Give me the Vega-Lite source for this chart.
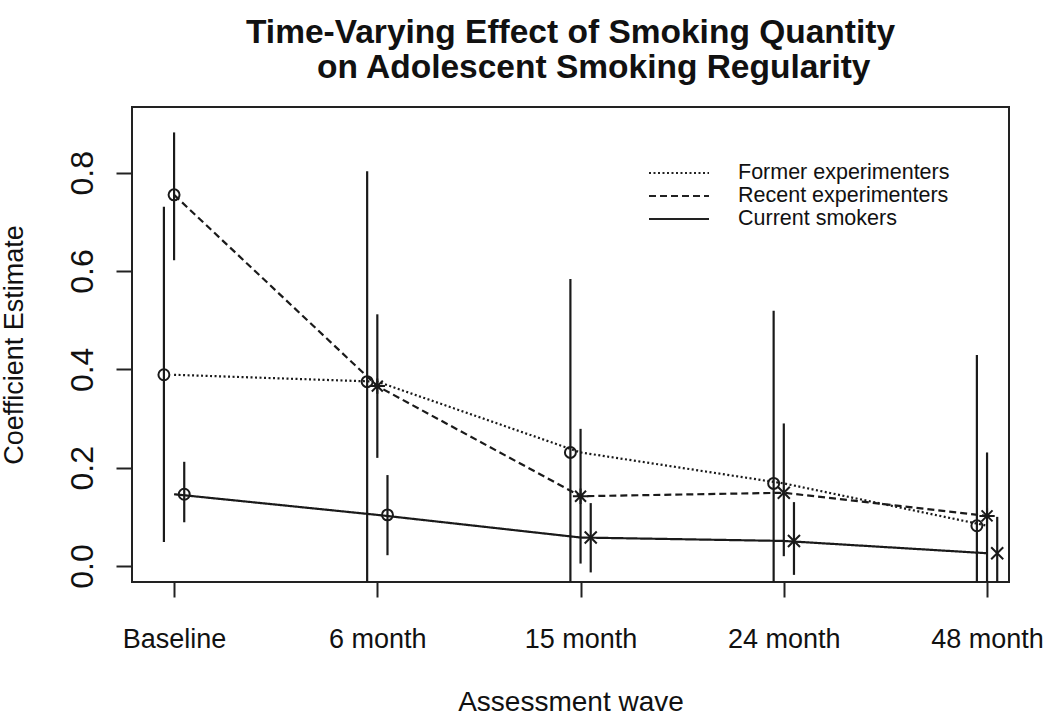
{
  "$schema": "https://vega.github.io/schema/vega-lite/v6.json",
  "width": 877,
  "height": 475,
  "autosize": {"type": "none"},
  "padding": {"left": 132, "top": 107, "right": 41, "bottom": 139},
  "background": "white",
  "title": {
    "text": ["Time-Varying Effect of Smoking Quantity", "\u200b\u00a0\u00a0\u00a0\u00a0\u00a0on Adolescent Smoking Regularity"],
    "anchor": "middle",
    "frame": "group",
    "font": "Liberation Sans",
    "fontSize": 33.5,
    "fontWeight": "bold",
    "color": "#111",
    "lineHeight": 35,
    "offset": 22
  },
  "config": {
    "view": {"stroke": "#222", "strokeWidth": 2},
    "axis": {
      "labelFont": "Liberation Sans",
      "titleFont": "Liberation Sans",
      "labelColor": "#111",
      "titleColor": "#111",
      "tickColor": "#222",
      "tickWidth": 2,
      "domain": false,
      "grid": false,
      "titleFontWeight": "normal"
    },
    "legend": {
      "orient": "none",
      "legendX": 536,
      "legendY": 55,
      "padding": 0,
      "title": null,
      "labelFont": "Liberation Sans",
      "labelFontSize": 21.5,
      "labelColor": "#111",
      "labelLimit": 600,
      "symbolType": "M-3,0H3",
      "symbolSize": 400,
      "symbolStrokeWidth": 2,
      "symbolStrokeColor": "#222",
      "labelOffset": 48,
      "rowPadding": 1
    }
  },
  "data": {
    "values": [
      {"group": "Former experimenters", "wave": "Baseline", "wave_num": 1, "pos": 0.95, "est": 0.389, "lo": 0.049, "hi": 0.731, "marker": "circle"},
      {"group": "Former experimenters", "wave": "6 month", "wave_num": 2, "pos": 1.95, "est": 0.375, "lo": -0.1, "hi": 0.803, "marker": "circle"},
      {"group": "Former experimenters", "wave": "15 month", "wave_num": 3, "pos": 2.95, "est": 0.231, "lo": -0.1, "hi": 0.584, "marker": "circle"},
      {"group": "Former experimenters", "wave": "24 month", "wave_num": 4, "pos": 3.95, "est": 0.168, "lo": -0.1, "hi": 0.519, "marker": "circle"},
      {"group": "Former experimenters", "wave": "48 month", "wave_num": 5, "pos": 4.95, "est": 0.082, "lo": -0.1, "hi": 0.429, "marker": "circle"},
      {"group": "Recent experimenters", "wave": "Baseline", "wave_num": 1, "pos": 1.0, "est": 0.755, "lo": 0.622, "hi": 0.882, "marker": "circle"},
      {"group": "Recent experimenters", "wave": "6 month", "wave_num": 2, "pos": 2.0, "est": 0.366, "lo": 0.22, "hi": 0.512, "marker": "asterisk"},
      {"group": "Recent experimenters", "wave": "15 month", "wave_num": 3, "pos": 3.0, "est": 0.142, "lo": 0.005, "hi": 0.279, "marker": "asterisk"},
      {"group": "Recent experimenters", "wave": "24 month", "wave_num": 4, "pos": 4.0, "est": 0.149, "lo": 0.02, "hi": 0.29, "marker": "x"},
      {"group": "Recent experimenters", "wave": "48 month", "wave_num": 5, "pos": 5.0, "est": 0.102, "lo": -0.1, "hi": 0.231, "marker": "asterisk"},
      {"group": "Current smokers", "wave": "Baseline", "wave_num": 1, "pos": 1.05, "est": 0.146, "lo": 0.089, "hi": 0.212, "marker": "circle"},
      {"group": "Current smokers", "wave": "6 month", "wave_num": 2, "pos": 2.05, "est": 0.104, "lo": 0.022, "hi": 0.185, "marker": "circle"},
      {"group": "Current smokers", "wave": "15 month", "wave_num": 3, "pos": 3.05, "est": 0.058, "lo": -0.013, "hi": 0.128, "marker": "x"},
      {"group": "Current smokers", "wave": "24 month", "wave_num": 4, "pos": 4.05, "est": 0.051, "lo": -0.018, "hi": 0.13, "marker": "x"},
      {"group": "Current smokers", "wave": "48 month", "wave_num": 5, "pos": 5.05, "est": 0.026, "lo": -0.1, "hi": 0.1, "marker": "x"}
    ]
  },
  "layer": [
    {
      "mark": {"type": "rule", "clip": true, "color": "#1a1a1a", "strokeWidth": 2.2},
      "encoding": {
        "x": {"field": "pos", "type": "quantitative", "scale": {"domain": [0.793, 5.108], "nice": false, "zero": false}},
        "y": {"field": "lo", "type": "quantitative", "scale": {"domain": [-0.0325, 0.9337], "nice": false, "zero": false}},
        "y2": {"field": "hi"}
      }
    },
    {
      "mark": {"type": "line", "clip": true, "color": "#1a1a1a", "strokeWidth": 2.2},
      "encoding": {
        "x": {
          "field": "wave_num",
          "type": "quantitative",
          "axis": {
            "values": [1, 2, 3, 4, 5],
            "labelExpr": "['', 'Baseline', '6 month', '15 month', '24 month', '48 month'][datum.value]",
            "title": "Assessment wave",
            "labelFontSize": 27,
            "titleFontSize": 28,
            "tickSize": 15,
            "labelPadding": 29,
            "titlePadding": 36,
            "labelFlush": false,
            "labelOverlap": false
          }
        },
        "y": {
          "field": "est",
          "type": "quantitative",
          "axis": {
            "values": [0, 0.2, 0.4, 0.6, 0.8],
            "format": ".1f",
            "title": "Coefficient Estimate",
            "labelAngle": 270,
            "labelFontSize": 32,
            "titleFontSize": 27,
            "tickSize": 16,
            "labelPadding": 17,
            "titlePadding": 38
          }
        },
        "strokeDash": {
          "field": "group",
          "type": "nominal",
          "scale": {
            "domain": ["Former experimenters", "Recent experimenters", "Current smokers"],
            "range": [[2, 2.5], [7, 4], [1, 0]]
          }
        },
        "detail": {"field": "group"}
      }
    },
    {
      "mark": {"type": "point", "filled": false, "color": "#1a1a1a", "strokeWidth": 2, "size": 120, "opacity": 1},
      "encoding": {
        "x": {"field": "pos", "type": "quantitative"},
        "y": {"field": "est", "type": "quantitative"},
        "shape": {
          "field": "marker",
          "type": "nominal",
          "scale": {
            "domain": ["circle", "asterisk", "x"],
            "range": ["circle", "M-1.4,0H1.4M0,-1.4V1.4M-1,-1L1,1M-1,1L1,-1", "M-1.1,-1.1L1.1,1.1M-1.1,1.1L1.1,-1.1"]
          },
          "legend": null
        }
      }
    }
  ]
}
